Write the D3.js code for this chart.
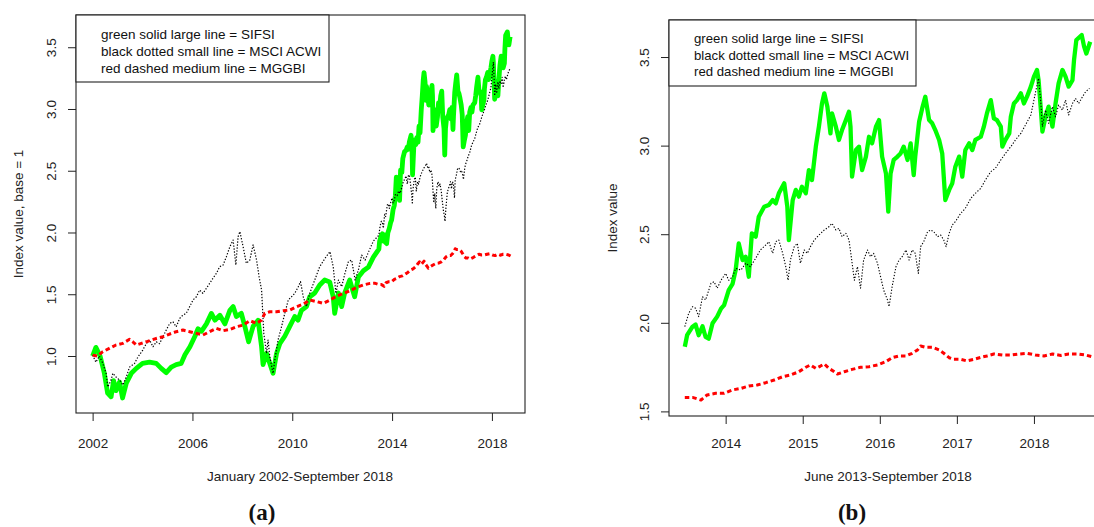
<!DOCTYPE html>
<html>
<head>
<meta charset="utf-8">
<script src="https://cdn.jsdelivr.net/npm/d3@7"></script>
<style>
  body { margin: 0; background: #fff; }
  svg { display: block; font-family: "Liberation Sans", Arial, sans-serif; }
</style>
</head>
<body>
<svg id="chart" width="1094" height="527"></svg>
<script>
// [year, index value]
const sifsi = [
  [2002.00,1.00],[2002.13,1.07],[2002.30,1.00],[2002.47,0.86],[2002.60,0.70],[2002.74,0.67],[2002.84,0.80],[2002.94,0.72],
  [2003.08,0.79],[2003.20,0.66],[2003.35,0.78],[2003.55,0.86],[2003.75,0.90],[2004.00,0.94],[2004.28,0.95],[2004.55,0.94],
  [2004.75,0.90],[2004.95,0.865],[2005.15,0.91],[2005.35,0.93],[2005.55,0.94],[2005.70,1.01],[2005.90,1.075],[2006.10,1.16],
  [2006.22,1.22],[2006.36,1.20],[2006.56,1.26],[2006.76,1.345],[2006.90,1.29],[2007.10,1.33],[2007.30,1.26],[2007.50,1.37],
  [2007.63,1.40],[2007.76,1.32],[2007.96,1.345],[2008.10,1.24],[2008.25,1.115],[2008.43,1.24],[2008.63,1.29],[2008.77,1.075],
  [2008.83,0.93],[2008.97,1.02],[2009.10,0.94],[2009.23,0.86],[2009.37,1.02],[2009.50,1.10],[2009.70,1.16],[2009.90,1.24],
  [2010.10,1.32],[2010.23,1.29],[2010.37,1.37],[2010.57,1.40],[2010.70,1.48],[2010.90,1.51],[2011.10,1.575],[2011.30,1.615],
  [2011.50,1.60],[2011.64,1.48],[2011.70,1.345],[2011.85,1.51],[2011.98,1.40],[2012.10,1.51],[2012.30,1.615],[2012.50,1.48],
  [2012.65,1.64],[2012.85,1.69],[2013.05,1.72],[2013.25,1.80],
  [2013.47,1.865],[2013.50,1.93],[2013.57,1.978],[2013.61,1.99],[2013.65,1.93],[2013.70,1.98],[2013.74,1.92],[2013.78,1.91],
  [2013.83,1.997],[2013.89,2.035],[2013.94,2.08],[2013.98,2.10],[2014.04,2.185],[2014.09,2.22],[2014.13,2.298],[2014.17,2.448],
  [2014.22,2.354],[2014.26,2.373],[2014.30,2.26],[2014.34,2.505],[2014.39,2.486],[2014.43,2.599],[2014.50,2.655],[2014.56,2.665],
  [2014.61,2.693],[2014.65,2.674],[2014.69,2.731],[2014.76,2.787],[2014.80,2.655],[2014.82,2.467],[2014.87,2.693],[2014.91,2.75],
  [2014.95,2.712],[2014.99,2.768],[2015.04,2.731],[2015.08,2.862],[2015.12,2.806],[2015.17,2.994],[2015.21,3.107],[2015.25,3.238],
  [2015.28,3.295],[2015.32,3.22],[2015.36,3.069],[2015.38,3.182],[2015.43,3.107],[2015.47,3.032],[2015.51,3.088],[2015.56,3.144],
  [2015.60,3.191],[2015.62,3.107],[2015.64,2.825],[2015.69,2.975],[2015.73,2.994],[2015.77,2.862],[2015.82,2.938],[2015.86,3.05],
  [2015.90,3.013],[2015.95,3.107],[2015.99,3.144],[2016.03,2.938],[2016.08,2.843],[2016.11,2.627],[2016.14,2.843],[2016.18,2.919],
  [2016.23,2.938],[2016.27,2.956],[2016.31,2.994],[2016.36,2.919],[2016.40,3.013],[2016.44,2.834],[2016.46,2.938],[2016.51,3.135],
  [2016.55,3.21],[2016.59,3.276],[2016.64,3.144],[2016.68,3.126],[2016.72,3.088],[2016.77,3.032],[2016.81,2.956],[2016.85,2.693],
  [2016.90,2.75],[2016.94,2.787],[2016.98,2.881],[2017.03,2.938],[2017.07,2.825],[2017.11,2.975],[2017.16,3.013],[2017.20,2.975],
  [2017.24,3.032],[2017.31,3.05],[2017.35,3.107],[2017.39,3.182],[2017.44,3.257],[2017.48,3.154],[2017.52,3.144],[2017.57,3.107],
  [2017.59,2.994],[2017.63,3.032],[2017.68,3.069],[2017.70,3.163],[2017.74,3.238],[2017.78,3.257],[2017.83,3.295],[2017.87,3.238],
  [2017.91,3.276],[2017.96,3.333],[2018.00,3.389],[2018.04,3.427],[2018.06,3.37],[2018.09,3.201],[2018.11,3.079],[2018.15,3.163],
  [2018.19,3.22],[2018.24,3.107],[2018.28,3.238],[2018.32,3.351],[2018.37,3.427],[2018.41,3.389],[2018.45,3.333],[2018.50,3.37],
  [2018.52,3.483],[2018.55,3.596],[2018.62,3.624],[2018.65,3.56],[2018.68,3.52],[2018.73,3.586]
];

const msci = [
  [2002.00,1.007],[2002.13,0.95],[2002.27,1.00],[2002.41,0.94],[2002.54,0.86],[2002.61,0.75],[2002.74,0.805],[2002.81,0.86],
  [2002.94,0.83],[2003.08,0.805],[2003.21,0.765],[2003.35,0.83],[2003.48,0.91],[2003.68,0.94],[2003.81,0.99],[2004.01,1.048],
  [2004.15,1.10],[2004.28,1.13],[2004.42,1.075],[2004.55,1.115],[2004.68,1.10],[2004.82,1.156],[2004.95,1.21],[2005.09,1.264],
  [2005.22,1.277],[2005.35,1.237],[2005.49,1.305],[2005.62,1.332],[2005.75,1.345],[2005.89,1.40],[2006.02,1.453],[2006.16,1.48],
  [2006.29,1.534],[2006.42,1.507],[2006.56,1.548],[2006.69,1.588],[2006.82,1.629],[2006.96,1.669],[2007.09,1.723],[2007.23,1.737],
  [2007.36,1.804],[2007.50,1.885],[2007.63,1.939],[2007.74,1.737],[2007.83,1.966],[2007.90,2.007],[2008.03,1.885],[2008.16,1.75],
  [2008.30,1.777],[2008.43,1.90],[2008.57,1.777],[2008.67,1.642],[2008.77,1.534],[2008.86,1.183],[2008.97,1.021],[2009.03,1.129],
  [2009.10,0.994],[2009.23,0.86],[2009.30,0.967],[2009.43,1.129],[2009.57,1.237],[2009.70,1.345],[2009.84,1.453],[2009.97,1.48],
  [2010.10,1.507],[2010.24,1.561],[2010.33,1.602],[2010.44,1.48],[2010.57,1.40],[2010.70,1.507],[2010.90,1.615],[2011.10,1.723],
  [2011.31,1.79],[2011.51,1.845],[2011.64,1.723],[2011.75,1.507],[2011.85,1.615],[2011.98,1.561],[2012.11,1.669],[2012.25,1.764],
  [2012.38,1.777],[2012.52,1.615],[2012.65,1.696],[2012.78,1.817],[2012.92,1.777],[2013.05,1.84],[2013.25,1.93],
  [2013.47,1.978],[2013.52,2.053],[2013.57,2.091],[2013.61,2.082],[2013.65,2.035],[2013.70,2.147],[2013.74,2.129],[2013.81,2.223],
  [2013.85,2.232],[2013.89,2.195],[2013.94,2.24],[2014.00,2.279],[2014.04,2.24],[2014.09,2.26],[2014.13,2.307],[2014.20,2.298],
  [2014.26,2.336],[2014.32,2.317],[2014.39,2.364],[2014.45,2.411],[2014.52,2.439],[2014.56,2.458],[2014.61,2.392],[2014.65,2.458],
  [2014.69,2.467],[2014.74,2.392],[2014.78,2.317],[2014.81,2.24],[2014.84,2.354],[2014.89,2.43],[2014.93,2.448],[2014.97,2.336],
  [2015.02,2.411],[2015.06,2.392],[2015.10,2.43],[2015.15,2.467],[2015.21,2.495],[2015.28,2.524],[2015.34,2.542],[2015.38,2.561],
  [2015.43,2.524],[2015.47,2.533],[2015.51,2.486],[2015.56,2.505],[2015.60,2.467],[2015.63,2.373],[2015.67,2.24],[2015.71,2.317],
  [2015.75,2.195],[2015.79,2.354],[2015.84,2.411],[2015.88,2.373],[2015.92,2.392],[2015.97,2.336],[2016.01,2.26],[2016.05,2.185],
  [2016.10,2.129],[2016.12,2.091],[2016.16,2.204],[2016.21,2.317],[2016.25,2.354],[2016.29,2.373],[2016.34,2.411],[2016.38,2.354],
  [2016.42,2.411],[2016.46,2.392],[2016.50,2.279],[2016.53,2.43],[2016.57,2.458],[2016.62,2.514],[2016.66,2.524],[2016.70,2.514],
  [2016.75,2.486],[2016.79,2.495],[2016.83,2.467],[2016.86,2.43],[2016.90,2.505],[2016.94,2.552],[2016.98,2.571],[2017.05,2.618],
  [2017.11,2.646],[2017.18,2.702],[2017.24,2.731],[2017.31,2.759],[2017.37,2.806],[2017.44,2.853],[2017.50,2.872],[2017.57,2.919],
  [2017.63,2.956],[2017.70,2.994],[2017.76,3.032],[2017.83,3.069],[2017.89,3.116],[2017.96,3.173],[2018.02,3.30],[2018.06,3.38],
  [2018.09,3.238],[2018.11,3.107],[2018.15,3.201],[2018.19,3.126],[2018.24,3.22],[2018.28,3.163],[2018.32,3.229],[2018.37,3.201],
  [2018.41,3.257],[2018.45,3.173],[2018.50,3.238],[2018.54,3.266],[2018.58,3.238],[2018.63,3.276],[2018.67,3.304],[2018.72,3.323]
];

const mggbi = [
  [2002.00,1.007],[2002.20,1.00],[2002.41,1.035],[2002.67,1.062],[2002.94,1.089],[2003.21,1.102],[2003.48,1.135],[2003.61,1.115],
  [2003.75,1.089],[2003.95,1.102],[2004.15,1.115],[2004.35,1.129],[2004.55,1.142],[2004.82,1.156],[2005.09,1.178],[2005.35,1.197],
  [2005.62,1.21],[2005.89,1.197],[2006.16,1.183],[2006.42,1.17],[2006.69,1.197],[2006.96,1.224],[2007.23,1.205],[2007.50,1.215],
  [2007.76,1.237],[2008.03,1.25],[2008.30,1.286],[2008.57,1.264],[2008.77,1.291],[2008.90,1.345],[2009.10,1.358],[2009.37,1.358],
  [2009.64,1.367],[2009.90,1.372],[2010.17,1.399],[2010.44,1.42],[2010.71,1.453],[2010.98,1.44],[2011.24,1.426],[2011.51,1.453],
  [2011.78,1.485],[2012.05,1.507],[2012.32,1.529],[2012.58,1.556],[2012.85,1.575],[2013.12,1.588],[2013.30,1.59],
  [2013.47,1.579],[2013.57,1.579],[2013.68,1.564],[2013.76,1.593],[2013.87,1.602],[2013.98,1.602],[2014.09,1.621],[2014.20,1.63],
  [2014.30,1.643],[2014.41,1.649],[2014.52,1.662],[2014.63,1.677],[2014.74,1.696],[2014.84,1.705],[2014.95,1.724],[2015.04,1.749],
  [2015.10,1.762],[2015.17,1.743],[2015.23,1.756],[2015.28,1.768],[2015.34,1.743],[2015.41,1.724],[2015.45,1.711],[2015.54,1.724],
  [2015.64,1.737],[2015.75,1.749],[2015.86,1.752],[2015.97,1.762],[2016.08,1.781],[2016.16,1.803],[2016.25,1.813],[2016.34,1.813],
  [2016.42,1.828],[2016.49,1.847],[2016.53,1.869],[2016.59,1.862],[2016.68,1.862],[2016.77,1.847],[2016.83,1.828],[2016.90,1.803],
  [2016.96,1.794],[2017.05,1.794],[2017.13,1.785],[2017.22,1.794],[2017.31,1.805],[2017.39,1.813],[2017.48,1.824],[2017.59,1.818],
  [2017.70,1.818],[2017.81,1.824],[2017.91,1.828],[2018.02,1.818],[2018.13,1.813],[2018.24,1.824],[2018.35,1.816],[2018.45,1.824],
  [2018.56,1.824],[2018.67,1.818],[2018.75,1.809]
];

const legendLines = [
  "green solid large line = SIFSI",
  "black dotted small line = MSCI ACWI",
  "red dashed medium line = MGGBI"
];

const leftYearTicks = [2002, 2006, 2010, 2014, 2018];
const leftValueTicks = [1.0, 1.5, 2.0, 2.5, 3.0, 3.5];
const rightYearTicks = [2014, 2015, 2016, 2017, 2018];
const rightValueTicks = [1.5, 2.0, 2.5, 3.0, 3.5];

const svg = d3.select("#chart");
svg.append("rect").attr("width", 1094).attr("height", 527).attr("fill", "#fff");

const panels = [
  {
    id: "a", startYear: 2000,
    left: 76, right: 525, top: 15, bottom: 413,
    xDomain: [2001.334, 2019.326], yDomain: [0.5385, 3.761],
    xTicks: leftYearTicks, yTicks: leftValueTicks,
    yTitle: "Index value, base = 1", yTitleX: 23,
    xTitle: "January 2002-September 2018", xTitleX: 300,
    legend: {right: 329, bottom: 82, textX: 101, baselines: [38.5, 56, 73.2], size: 13.5},
    widths: [4.8, 1.2, 3],
    tag: "(a)", tagX: 262
  },
  {
    id: "b", startYear: 2013.46,
    left: 669, right: 1101, top: 20, bottom: 416,
    xDomain: [2013.265, 2018.87], yDomain: [1.474, 3.709],
    xTicks: rightYearTicks, yTicks: rightValueTicks,
    yTitle: "Index value", yTitleX: 617,
    xTitle: "June 2013-September 2018", xTitleX: 888,
    legend: {right: 916, bottom: 86, textX: 694, baselines: [43.3, 59.6, 76.3], size: 13.2},
    widths: [4.3, 1.1, 3],
    tag: "(b)", tagX: 852
  }
];

panels.forEach(drawPanel);

function drawPanel(p) {
  const x = d3.scaleLinear().domain(p.xDomain).range([p.left, p.right]);
  const y = d3.scaleLinear().domain(p.yDomain).range([p.bottom, p.top]);
  const g = svg.append("g");

  g.append("clipPath").attr("id", "clip-" + p.id)
    .append("rect")
    .attr("x", p.left).attr("y", p.top)
    .attr("width", p.right - p.left).attr("height", p.bottom - p.top);

  const line = d3.line().x(d => x(d[0])).y(d => y(d[1]));

  const series = [
    {data: sifsi, color: "#00ff00", dash: null},
    {data: msci, color: "#000", dash: "1.3,1.7"},
    {data: mggbi, color: "#ff0000", dash: "4.5,3"}
  ];
  series.forEach((s, i) => {
    g.append("path")
      .datum(s.data.filter(d => d[0] >= p.startYear))
      .attr("clip-path", `url(#clip-${p.id})`)
      .attr("fill", "none")
      .attr("stroke", s.color)
      .attr("stroke-width", p.widths[i])
      .attr("stroke-linejoin", "round")
      .attr("stroke-dasharray", s.dash)
      .attr("d", line);
  });

  // plot frame
  g.append("rect")
    .attr("x", p.left).attr("y", p.top)
    .attr("width", p.right - p.left).attr("height", p.bottom - p.top)
    .attr("fill", "none").attr("stroke", "#222").attr("stroke-width", 1.1);

  // x axis
  g.append("g")
    .attr("transform", `translate(0,${p.bottom})`)
    .call(d3.axisBottom(x).tickValues(p.xTicks).tickFormat(d3.format("d")).tickSize(8))
    .call(a => a.select(".domain").remove())
    .call(a => a.selectAll("line").attr("stroke", "#222"))
    .call(a => a.selectAll("text").attr("y", 447.5 - p.bottom).attr("dy", 0).attr("fill", "#222"))
    .attr("font-family", null).attr("font-size", 13.5);

  // y axis, labels parallel to the axis
  g.append("g")
    .attr("transform", `translate(${p.left},0)`)
    .call(d3.axisLeft(y).tickValues(p.yTicks).tickFormat(d3.format(".1f")).tickSize(8))
    .call(a => a.select(".domain").remove())
    .call(a => a.selectAll("line").attr("stroke", "#222"))
    .call(a => a.selectAll("text")
      .attr("x", 0).attr("y", 0).attr("dy", 0)
      .attr("text-anchor", "middle")
      .attr("fill", "#222")
      .attr("transform", "translate(-20,0) rotate(-90)"))
    .attr("font-family", null).attr("font-size", 13.5);

  // axis titles
  g.append("text")
    .attr("x", p.xTitleX).attr("y", 481)
    .attr("text-anchor", "middle").attr("font-size", 13.5).attr("fill", "#222")
    .text(p.xTitle);

  g.append("text")
    .attr("transform", `translate(${p.yTitleX},${(p.top + p.bottom) / 2}) rotate(-90)`)
    .attr("text-anchor", "middle").attr("font-size", 13.5).attr("fill", "#222")
    .text(p.yTitle);

  // legend
  const lg = p.legend;
  g.append("rect")
    .attr("x", p.left).attr("y", p.top)
    .attr("width", lg.right - p.left).attr("height", lg.bottom - p.top)
    .attr("fill", "#fff").attr("stroke", "#222").attr("stroke-width", 1.1);
  legendLines.forEach((t, i) => {
    g.append("text")
      .attr("x", lg.textX).attr("y", lg.baselines[i])
      .attr("font-size", lg.size).attr("fill", "#111")
      .text(t);
  });

  // panel tag
  g.append("text")
    .attr("x", p.tagX).attr("y", 520)
    .attr("text-anchor", "middle")
    .attr("font-family", "'Liberation Serif', 'DejaVu Serif', serif")
    .attr("font-weight", "bold").attr("font-size", 23)
    .attr("fill", "#111")
    .text(p.tag);
}
</script>
</body>
</html>
